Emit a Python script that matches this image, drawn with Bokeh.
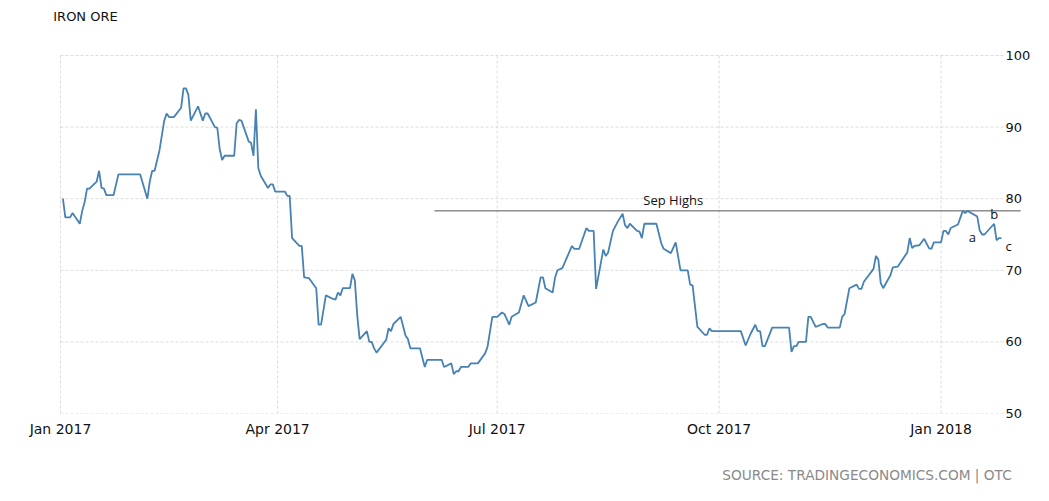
import pandas as pd
from bokeh.plotting import figure
from bokeh.layouts import column
from bokeh.models import FixedTicker, ColumnDataSource
from bokeh.core.properties import value
from bokeh.embed import file_html
from bokeh.resources import INLINE

# ---- data ----
dates = [
    "2017-01-02", "2017-01-03", "2017-01-05", "2017-01-06", "2017-01-09", "2017-01-10", "2017-01-11",
    "2017-01-12", "2017-01-13", "2017-01-16", "2017-01-17", "2017-01-18", "2017-01-19", "2017-01-20",
    "2017-01-23", "2017-01-25", "2017-02-03", "2017-02-06", "2017-02-07", "2017-02-08", "2017-02-09",
    "2017-02-11", "2017-02-13", "2017-02-14", "2017-02-15", "2017-02-17", "2017-02-20", "2017-02-21",
    "2017-02-22", "2017-02-23", "2017-02-24", "2017-02-27", "2017-03-01", "2017-03-02", "2017-03-03",
    "2017-03-06", "2017-03-07", "2017-03-08", "2017-03-09", "2017-03-10", "2017-03-14", "2017-03-15",
    "2017-03-16", "2017-03-17", "2017-03-20", "2017-03-21", "2017-03-22", "2017-03-23", "2017-03-24",
    "2017-03-25", "2017-03-28", "2017-03-29", "2017-03-30", "2017-03-31", "2017-04-04", "2017-04-05",
    "2017-04-06", "2017-04-07", "2017-04-10", "2017-04-11", "2017-04-12", "2017-04-14", "2017-04-17",
    "2017-04-18", "2017-04-19", "2017-04-21", "2017-04-24", "2017-04-25", "2017-04-26", "2017-04-27",
    "2017-04-28", "2017-05-01", "2017-05-02", "2017-05-03", "2017-05-04", "2017-05-05", "2017-05-08",
    "2017-05-09", "2017-05-10", "2017-05-11", "2017-05-12", "2017-05-16", "2017-05-17", "2017-05-18",
    "2017-05-19", "2017-05-22", "2017-05-24", "2017-05-25", "2017-05-26", "2017-05-30", "2017-06-01",
    "2017-06-02", "2017-06-08", "2017-06-09", "2017-06-12", "2017-06-13", "2017-06-14", "2017-06-15",
    "2017-06-16", "2017-06-19", "2017-06-20", "2017-06-23", "2017-06-26", "2017-06-27", "2017-06-29",
    "2017-07-01", "2017-07-03", "2017-07-04", "2017-07-06", "2017-07-07", "2017-07-10", "2017-07-12",
    "2017-07-14", "2017-07-17", "2017-07-19", "2017-07-20", "2017-07-21", "2017-07-24", "2017-07-25",
    "2017-07-26", "2017-07-28", "2017-08-01", "2017-08-02", "2017-08-04", "2017-08-07", "2017-08-08",
    "2017-08-10", "2017-08-11", "2017-08-14", "2017-08-15", "2017-08-16", "2017-08-18", "2017-08-20",
    "2017-08-22", "2017-08-23", "2017-08-24", "2017-08-25", "2017-08-28", "2017-08-29", "2017-08-30",
    "2017-08-31", "2017-09-05", "2017-09-07", "2017-09-08", "2017-09-11", "2017-09-13", "2017-09-15",
    "2017-09-18", "2017-09-19", "2017-09-20", "2017-09-22", "2017-09-25", "2017-09-26", "2017-09-27",
    "2017-09-28", "2017-10-10", "2017-10-12", "2017-10-14", "2017-10-16", "2017-10-17", "2017-10-18",
    "2017-10-19", "2017-10-20", "2017-10-23", "2017-10-30", "2017-10-31", "2017-11-01", "2017-11-02",
    "2017-11-03", "2017-11-06", "2017-11-07", "2017-11-08", "2017-11-10", "2017-11-13", "2017-11-14",
    "2017-11-15", "2017-11-20", "2017-11-21", "2017-11-22", "2017-11-24", "2017-11-27", "2017-11-28",
    "2017-11-29", "2017-11-30", "2017-12-04", "2017-12-05", "2017-12-06", "2017-12-07", "2017-12-08",
    "2017-12-11", "2017-12-12", "2017-12-14", "2017-12-15", "2017-12-18", "2017-12-19", "2017-12-20",
    "2017-12-21", "2017-12-23", "2017-12-25", "2017-12-27", "2017-12-28", "2017-12-29", "2018-01-01",
    "2018-01-02", "2018-01-03", "2018-01-04", "2018-01-05", "2018-01-08", "2018-01-10", "2018-01-11",
    "2018-01-12", "2018-01-14", "2018-01-16", "2018-01-17", "2018-01-18", "2018-01-19", "2018-01-23",
    "2018-01-24", "2018-01-25", "2018-01-26",
]
prices = [
    80.0, 77.4, 77.4, 78.0, 76.5, 78.3, 79.5,
    81.4, 81.4, 82.4, 83.9, 81.5, 81.4, 80.5,
    80.5, 83.4, 83.4, 80.0, 82.4, 83.9, 83.9,
    86.7, 90.9, 91.9, 91.4, 91.4, 92.7, 95.4,
    95.4, 94.5, 90.9, 92.9, 90.9, 91.9, 91.9,
    90.0, 89.9, 86.9, 85.4, 86.0, 86.0, 90.5,
    91.0, 90.9, 88.0, 87.8, 86.0, 92.5, 84.3,
    83.2, 81.5, 82.0, 82.0, 81.0, 81.0, 80.4,
    80.4, 74.5, 73.4, 73.4, 69.0, 68.9, 67.5,
    62.4, 62.4, 66.5, 66.0, 65.9, 66.9, 66.5,
    67.5, 67.5, 69.5, 68.6, 63.7, 60.4, 61.5,
    60.0, 60.0, 59.1, 58.5, 60.3, 61.9, 61.5,
    62.5, 63.5, 60.9, 60.4, 59.1, 59.1, 56.5,
    57.5, 57.5, 56.5, 57.0, 55.5, 55.9, 55.9,
    56.5, 56.5, 57.0, 57.0, 58.4, 59.3, 63.5,
    63.5, 64.1, 63.9, 62.4, 63.5, 64.1, 66.5,
    65.0, 65.5, 69.0, 69.0, 67.5, 66.9, 69.0,
    70.0, 70.3, 73.4, 73.0, 73.0, 75.9, 75.5,
    75.5, 67.4, 72.9, 72.0, 72.5, 75.5, 76.8,
    77.9, 76.3, 75.9, 76.5, 75.5, 75.4, 74.5,
    76.5, 76.5, 73.8, 73.0, 72.4, 73.9, 70.0,
    70.0, 68.0, 67.9, 62.1, 61.0, 61.0, 61.9,
    61.5, 61.5, 59.5, 61.1, 62.4, 61.5, 61.5,
    59.4, 59.4, 62.0, 62.0, 58.6, 59.4, 59.4,
    60.0, 60.0, 63.5, 63.5, 62.1, 62.5, 62.5,
    62.0, 62.0, 63.5, 63.9, 67.5, 68.0, 67.4,
    67.4, 68.4, 70.2, 72.0, 71.5, 68.2, 67.5,
    69.3, 70.4, 70.5, 71.0, 72.5, 74.5, 73.1,
    73.4, 73.5, 74.4, 73.1, 73.0, 73.9, 73.9,
    75.5, 75.5, 75.0, 75.9, 76.4, 78.3, 78.0,
    78.3, 77.9, 77.5, 75.6, 75.0, 75.0, 76.5,
    74.2, 74.5, 74.5,
]

y_ticks = [50, 60, 70, 80, 90, 100]
x_tick_dates = ["2017-01-01", "2017-04-01", "2017-07-01", "2017-10-01", "2018-01-01"]
x_tick_labels = ["Jan 2017", "Apr 2017", "Jul 2017", "Oct 2017", "Jan 2018"]

sep_high_level = 78.3
sep_high_from = "2017-06-05"
sep_high_to = "2018-02-03"
sep_high_text = "Sep Highs"

wave_labels = ["a", "b", "c"]
wave_dates = ["2018-01-14", "2018-01-23", "2018-01-29"]
wave_levels = [74.7, 77.9, 73.4]

title_text = "IRON ORE"
source_text = "SOURCE: TRADINGECONOMICS.COM | OTC"

# ---- layout constants ----
first_day = pd.Timestamp("2017-01-01")
PX_PER_DAY = 2.4125
PX_PER_UNIT = 7.16
LEFT_PAD = 60          # pixels left of Jan 2017
TOP_PAD = 55           # pixels above the 100 line
x_start = first_day - pd.Timedelta(days=LEFT_PAD / PX_PER_DAY)
x_end = pd.Timestamp("2018-02-05")
y_top = 100 + TOP_PAD / PX_PER_UNIT
frame_w = int(round((x_end - x_start) / pd.Timedelta(days=1) * PX_PER_DAY))
frame_h = int(round((y_top - 50) * PX_PER_UNIT))
grid_end = pd.Timestamp("2018-01-27")


def ts(d):
    return pd.Timestamp(d)


def ms(d):
    return pd.Timestamp(d).value // 10**6


src = ColumnDataSource(data=dict(date=pd.to_datetime(dates), price=prices))

p = figure(
    frame_width=frame_w, frame_height=frame_h,
    x_axis_type="datetime",
    x_range=(x_start, x_end),
    y_range=(50, y_top),
    y_axis_location="right",
    output_backend="svg", toolbar_location=None,
    min_border_left=0, min_border_right=12, min_border_top=0, min_border_bottom=35,
)
p.outline_line_color = None
p.background_fill_color = "white"
p.border_fill_color = "white"
p.xgrid.grid_line_color = None
p.ygrid.grid_line_color = None

# x axis
xt = [ms(d) for d in x_tick_dates]
p.xaxis.ticker = FixedTicker(ticks=xt)
p.xaxis.major_label_overrides = {t: l for t, l in zip(xt, x_tick_labels)}
p.xaxis.axis_line_color = None
p.xaxis.major_tick_line_color = None
p.xaxis.major_tick_out = 0
p.xaxis.major_tick_in = 0
p.xaxis.minor_tick_line_color = None
p.xaxis.major_label_standoff = 7
p.xaxis.major_label_text_font = "DejaVu Sans"
p.xaxis.major_label_text_font_size = "14px"
p.xaxis.major_label_text_color = "#111111"

# y axis (right)
p.yaxis.ticker = FixedTicker(ticks=y_ticks)
p.yaxis.axis_line_color = None
p.yaxis.major_tick_line_color = None
p.yaxis.major_tick_out = 0
p.yaxis.major_tick_in = 0
p.yaxis.minor_tick_line_color = None
p.yaxis.major_label_standoff = -20
p.yaxis.major_label_text_font = "DejaVu Sans"
p.yaxis.major_label_text_font_size = "13px"
p.yaxis.major_label_text_color = "#111111"

# grid lines (dotted, only over the 50-100 band)
p.segment(x0=[first_day] * len(y_ticks), y0=y_ticks,
          x1=[grid_end] * len(y_ticks), y1=y_ticks,
          line_color="#dcdcdc", line_dash="3 2", line_width=1)
p.segment(x0=pd.to_datetime(x_tick_dates), y0=[min(y_ticks)] * len(xt),
          x1=pd.to_datetime(x_tick_dates), y1=[max(y_ticks)] * len(xt),
          line_color="#dcdcdc", line_dash="3 2", line_width=1)

# Sep highs reference line
p.segment(x0=[ts(sep_high_from)], y0=[sep_high_level], x1=[ts(sep_high_to)], y1=[sep_high_level],
          line_color="#555555", line_width=1)
p.text(x=[ts("2017-09-12")], y=[79.85], text=[sep_high_text],
       text_font=value("Open Sans"), text_font_size="13px", text_color="#111111",
       text_align="center", text_baseline="middle")

# price line
p.line("date", "price", source=src, line_color="#4682b4", line_width=1.8)

# wave labels
p.text(x=pd.to_datetime(wave_dates), y=wave_levels, text=wave_labels,
       text_font=value("Open Sans"), text_font_size="13px", text_color="#111111",
       text_align="center", text_baseline="middle")

# chart title (top-left, above the plotting band)
p.text(x=[ts("2016-12-29")], y=[100 + 39 / PX_PER_UNIT], text=[title_text],
       text_font=value("DejaVu Sans"), text_font_size="13px", text_color="#111111",
       text_align="left", text_baseline="middle")

# footer with the source note
FOOT_W, FOOT_H = 1040, 50
foot = figure(width=FOOT_W, height=FOOT_H, x_range=(0, FOOT_W), y_range=(0, FOOT_H),
              output_backend="svg", toolbar_location=None, min_border=0)
foot.axis.visible = False
foot.grid.grid_line_color = None
foot.outline_line_color = None
foot.text(x=[1023], y=[FOOT_H - 26], text=[source_text],
          text_font=value("DejaVu Sans"), text_font_size="13.7px", text_color="#8a8a8a",
          text_align="right", text_baseline="middle")

layout = column(p, foot, spacing=0)
open("out.html", "w").write(file_html(layout, INLINE))
